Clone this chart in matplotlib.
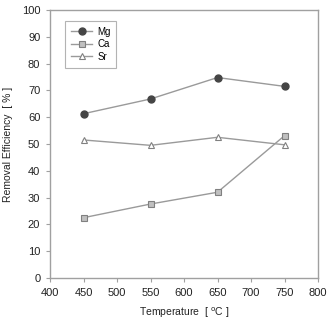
import matplotlib
matplotlib.use('Agg')
import matplotlib.pyplot as plt

temps = [450, 550, 650, 750]
mg = [61.3, 66.8, 74.8, 71.5]
ca = [22.5, 27.6, 32.0, 53.1]
sr = [51.5, 49.5, 52.5, 49.7]

plt.rcParams['font.family'] = ['Liberation Sans', 'DejaVu Sans']

fig = plt.figure(figsize=(3.29, 3.19), dpi=100)
ax = fig.add_axes([50 / 329, 1 - 278 / 319, 268 / 329, 268 / 319])

line_col = '#9a9a9a'
ax.plot(temps, mg, color=line_col, lw=1.0, marker='o', ms=5,
        mfc='#454545', mec='#454545', label='Mg')
ax.plot(temps, ca, color=line_col, lw=1.0, marker='s', ms=4,
        mfc='#c0c0c0', mec='#808080', mew=0.8, label='Ca')
ax.plot(temps, sr, color=line_col, lw=1.0, marker='^', ms=5,
        mfc='white', mec='#808080', mew=0.8, label='Sr')

ax.set_xlim(400, 800)
ax.set_ylim(0, 100)
ax.set_xticks(range(400, 801, 50))
ax.set_yticks(range(0, 101, 10))
for s in ax.spines.values():
    s.set_color('#a0a0a0')
    s.set_linewidth(1.0)
ax.tick_params(direction='out', length=3, width=0.8, color='#a0a0a0',
               labelsize=8, labelcolor='#222222', pad=4)

ax.set_xlabel('Temperature  [ $^{\\mathrm{o}}$C ]', fontsize=7.5, color='#222222', labelpad=6)
ax.set_ylabel('Removal Efficiency  [ % ]', fontsize=7.5, color='#222222', labelpad=6)

leg = ax.legend(loc='upper left', bbox_to_anchor=(0.056, 0.959), fontsize=7,
                frameon=True, fancybox=False, handlelength=2.2, borderpad=0.6,
                labelspacing=0.25, handletextpad=0.5, borderaxespad=0)
leg.get_frame().set_edgecolor('#a0a0a0')
leg.get_frame().set_linewidth(0.8)

fig.savefig('out.png', dpi=100)
